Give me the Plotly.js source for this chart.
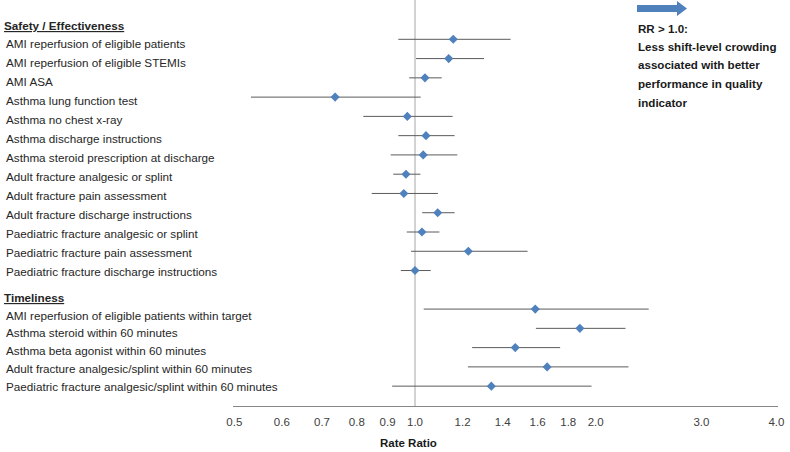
<!DOCTYPE html>
<html>
<head>
<meta charset="utf-8">
<script src="https://cdn.plot.ly/plotly-3.0.1.min.js"></script>
<style>html,body{margin:0;padding:0;background:#fff;}#chart{width:790px;height:452px;}</style>
</head>
<body>
<div id="chart"></div>
<script>
// ---- data ----
var groupHeaders = ["Safety / Effectiveness", "Timeliness"];
var safetyLabels = [
  "AMI reperfusion of eligible patients",
  "AMI reperfusion of eligible STEMIs",
  "AMI ASA",
  "Asthma lung function test",
  "Asthma no chest x-ray",
  "Asthma discharge instructions",
  "Asthma steroid prescription at discharge",
  "Adult fracture analgesic or splint",
  "Adult fracture pain assessment",
  "Adult fracture discharge instructions",
  "Paediatric fracture analgesic or splint",
  "Paediatric fracture pain assessment",
  "Paediatric fracture discharge instructions"
];
var safetyRR   = [1.158, 1.138, 1.039, 0.736, 0.971, 1.043, 1.032, 0.966, 0.958, 1.091, 1.027, 1.227, 1.000];
var safetyLow  = [0.938, 1.004, 0.978, 0.533, 0.820, 0.938, 0.911, 0.920, 0.847, 1.028, 0.969, 0.985, 0.947];
var safetyHigh = [1.443, 1.303, 1.108, 1.022, 1.155, 1.164, 1.176, 1.021, 1.092, 1.164, 1.098, 1.540, 1.062];

var timeLabels = [
  "AMI reperfusion of eligible patients within target",
  "Asthma steroid within 60 minutes",
  "Asthma beta agonist within 60 minutes",
  "Adult fracture analgesic/splint within 60 minutes",
  "Paediatric fracture analgesic/splint within 60 minutes"
];
var timeRR   = [1.586, 1.882, 1.469, 1.660, 1.340];
var timeLow  = [1.034, 1.590, 1.245, 1.225, 0.916];
var timeHigh = [2.451, 2.242, 1.745, 2.268, 1.968];

var tickVals = [0.5, 0.6, 0.7, 0.8, 0.9, 1.0, 1.2, 1.4, 1.6, 1.8, 2.0, 3.0, 4.0];
var tickText = ["0.5", "0.6", "0.7", "0.8", "0.9", "1.0", "1.2", "1.4", "1.6", "1.8", "2.0", "3.0", "4.0"];
var noteLines = ["RR > 1.0:", "Less shift-level crowding", "associated with better", "performance in quality", "indicator"];
var xTitle = "Rate Ratio";

// ---- build ----
var labels = safetyLabels.concat(timeLabels);
var rr = safetyRR.concat(timeRR);
var lo = safetyLow.concat(timeLow);
var hi = safetyHigh.concat(timeHigh);
var rows = [];
safetyLabels.forEach(function(_, i){ rows.push(i); });
timeLabels.forEach(function(_, i){ rows.push(14 + i); });

var W = 790, H = 452;
var mL = 233, mR = 12, mT = 0, mB = 46;
var pw = W - mL - mR, ph = H - mT - mB;
function px(x){ return (x - mL) / pw; }
function py(y){ return 1 - (y - mT) / ph; }

var yTop = -2.04, yBot = 19.03;
var FONT = "Liberation Sans, Arial, sans-serif";

// label layout (pixel rows of the text column)
var safetyTextTop = 43.3, safetyTextStep = 19.05;
var timeTextTop = 315, timeTextStep = 17.9;
var headerTextY = [25.7, 297.3];

var traces = [
  {
    type: "scatter", mode: "lines", x: [1, 1], y: [yTop, yBot],
    line: {color: "#a6a6a6", width: 1}, hoverinfo: "skip", showlegend: false
  },
  {
    type: "scatter", mode: "markers", x: rr, y: rows,
    marker: {symbol: "diamond", size: 7, color: "#4f81bd"},
    error_x: {
      type: "data", symmetric: false,
      array: hi.map(function(h, i){ return h - rr[i]; }),
      arrayminus: lo.map(function(l, i){ return rr[i] - l; }),
      color: "#5a5a5a", thickness: 1, width: 0
    },
    showlegend: false
  }
];

var annotations = [];
var labFont = {family: FONT, size: 11.7, color: "#262626"};
safetyLabels.forEach(function(t, i){
  annotations.push({
    xref: "paper", yref: "paper", x: px(4), y: py(safetyTextTop + i * safetyTextStep),
    xanchor: "left", yanchor: "middle", showarrow: false, text: t, font: labFont
  });
});
timeLabels.forEach(function(t, i){
  annotations.push({
    xref: "paper", yref: "paper", x: px(4), y: py(timeTextTop + i * timeTextStep),
    xanchor: "left", yanchor: "middle", showarrow: false, text: t, font: labFont
  });
});
groupHeaders.forEach(function(t, i){
  annotations.push({
    xref: "paper", yref: "paper", x: px(2), y: py(headerTextY[i]),
    xanchor: "left", yanchor: "middle", showarrow: false, text: "<b><u>" + t + "</u></b>",
    font: labFont
  });
});
noteLines.forEach(function(t, i){
  annotations.push({
    xref: "paper", yref: "paper", x: px(636), y: py(28 + i * 18.5),
    xanchor: "left", yanchor: "middle", showarrow: false, text: "<b>" + t + "</b>",
    font: {family: FONT, size: 11.6, color: "#1a1a1a"}
  });
});
annotations.push({
  xref: "paper", yref: "paper", x: px(408), y: py(443),
  xanchor: "center", yanchor: "middle", showarrow: false, text: "<b>" + xTitle + "</b>",
  font: {family: FONT, size: 11.5, color: "#1a1a1a"}
});

// arrow shape (pixel coords converted to paper)
var arrowPts = [[637,5],[677,5],[677,1],[687,8.5],[677,16],[677,12],[637,12]];
var path = arrowPts.map(function(p, i){ return (i ? "L" : "M") + px(p[0]) + "," + py(p[1]); }).join(" ") + " Z";

var layout = {
  width: W, height: H,
  margin: {l: mL, r: mR, t: mT, b: mB, pad: 0},
  paper_bgcolor: "#ffffff", plot_bgcolor: "#ffffff",
  showlegend: false,
  xaxis: {
    type: "log", range: [-0.3032, 0.6047],
    tickvals: tickVals, ticktext: tickText,
    showgrid: false, zeroline: false, showline: true, linecolor: "#868686", linewidth: 1,
    ticks: "", ticklabelstandoff: 5,
    tickfont: {family: FONT, size: 11.5, color: "#404040"}
  },
  yaxis: {
    range: [yBot, yTop], showgrid: false, zeroline: false, showline: false,
    showticklabels: false, ticks: ""
  },
  shapes: [{type: "path", xref: "paper", yref: "paper", path: path, fillcolor: "#4f81bd", line: {width: 0}}],
  annotations: annotations
};

Plotly.newPlot("chart", traces, layout, {displayModeBar: false, staticPlot: true});
</script>
</body>
</html>
